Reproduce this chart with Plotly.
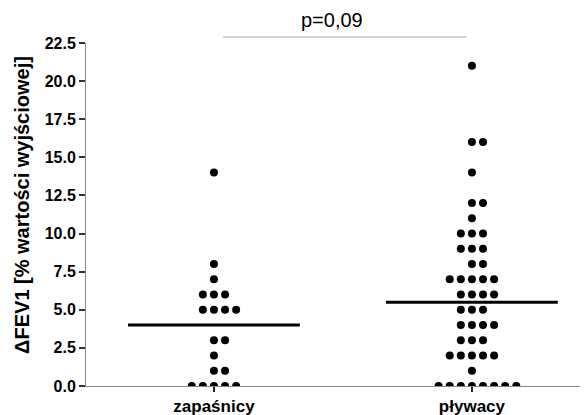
import numpy as np
import plotly.graph_objects as go

categories = ["zapaśnicy", "pływacy"]
zapasnicy = [14, 8, 7, 6, 6, 6, 5, 5, 5, 5, 3, 3, 2, 1, 1, 0, 0, 0, 0, 0]
plywacy = [21, 16, 16, 14, 12, 12, 11, 10, 10, 10, 9, 9, 9, 8, 8,
           7, 7, 7, 7, 7, 6, 6, 6, 6, 5, 5, 5, 4, 4, 4, 4, 3, 3, 3,
           2, 2, 2, 2, 2, 1, 0, 0, 0, 0, 0, 0, 0, 0]
groups = [zapasnicy, plywacy]
y_ticks = [0, 2.5, 5, 7.5, 10, 12.5, 15, 17.5, 20, 22.5]
p_text = "p=0,09"

FONT = "Liberation Sans, Arial, sans-serif"
spacing = 0.043  # horizontal spacing between dots in x units
half_w = 0.333   # half width of the median bar

fig = go.Figure()

for gi, vals in enumerate(groups):
    xs, ys = [], []
    for v in sorted(set(vals), reverse=True):
        n = vals.count(v)
        start = -((n - 1) // 2)
        for k in range(n):
            xs.append(gi + (start + k) * spacing)
            ys.append(v)
    fig.add_trace(go.Scatter(x=xs, y=ys, mode="markers",
                             marker=dict(size=8, color="black"),
                             showlegend=False, hoverinfo="y"))
    med = float(np.median(vals))
    fig.add_trace(go.Scatter(x=[gi - half_w, gi + half_w], y=[med, med],
                             mode="lines", line=dict(color="black", width=3),
                             showlegend=False, hoverinfo="skip"))

fig.update_layout(
    width=580, height=407,
    margin=dict(l=78, r=0, t=35, b=29),
    plot_bgcolor="white", paper_bgcolor="white",
    font=dict(family=FONT, color="black"),
    xaxis=dict(range=[-0.496, 1.45], tickvals=[0, 1], ticktext=categories,
               showline=True, linecolor="#888", linewidth=1,
               ticks="outside", ticklen=5, tickwidth=2, tickcolor="#222",
               tickfont=dict(size=17, weight="bold", family=FONT),
               showgrid=False, zeroline=False, fixedrange=True),
    yaxis=dict(range=[0, 22.5], tickvals=y_ticks, tickformat=".1f",
               showline=True, linecolor="#888", linewidth=1,
               ticks="outside", ticklen=6, tickwidth=2, tickcolor="#333",
               tickfont=dict(size=16, weight="bold", family=FONT),
               showgrid=False, zeroline=False, fixedrange=True),
    shapes=[dict(type="line", xref="x", yref="paper", x0=0.035, x1=0.98,
                 y0=1.0175, y1=1.0175, line=dict(color="#aaa", width=1))],
    annotations=[
        dict(text=p_text, xref="x", yref="paper", x=0.456, y=1.067,
             showarrow=False, font=dict(size=20, family=FONT),
             xanchor="center", yanchor="middle"),
        dict(text="ΔFEV1 [% wartości wyjściowej]", xref="paper", yref="paper",
             x=-0.1275, y=0.528, textangle=-90, showarrow=False,
             font=dict(size=20, weight="bold", family=FONT),
             xanchor="center", yanchor="middle"),
    ],
)

fig.write_html("out.html")
